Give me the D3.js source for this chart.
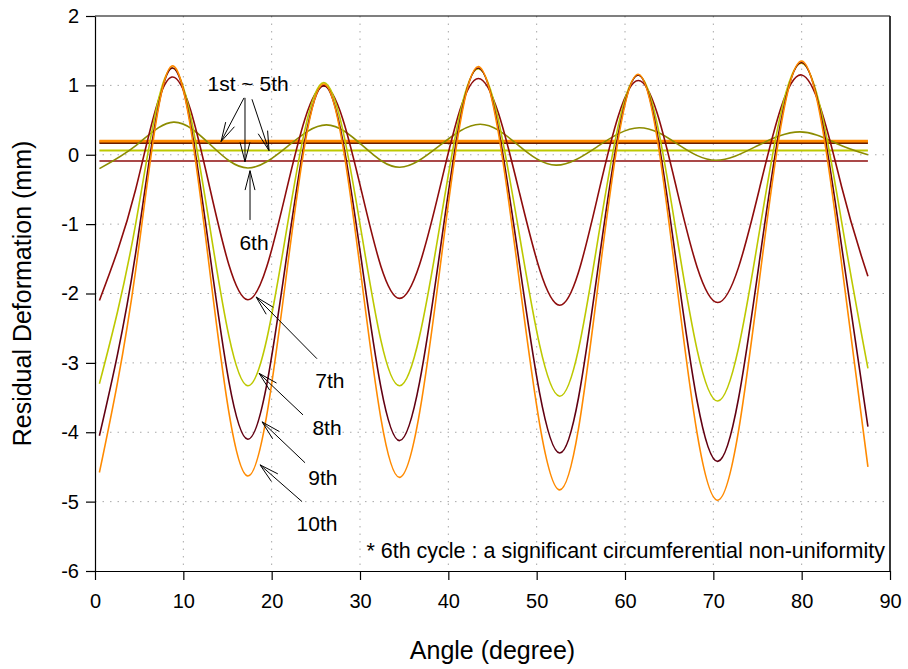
<!DOCTYPE html>
<html>
<head>
<meta charset="utf-8">
<script src="https://cdn.jsdelivr.net/npm/d3@7"></script>
<style>
  body { margin: 0; background: #fff; }
  text { font-family: "Liberation Sans", Arial, sans-serif; fill: #000; }
</style>
</head>
<body>
<div id="chart"></div>
<script>
// Width and height
var chart_width  = 908;
var chart_height = 669;

// Data
var angle = [0.5, 4.6, 8.7, 13.0, 17.3, 21.6, 25.9, 30.2, 34.5, 39.0, 43.4, 48.0, 52.6, 57.0, 61.5, 65.9, 70.5, 75.2, 80.0, 84.5, 87.5];
var cycle7  = [-2.1, -0.5, 1.12, -0.48, -2.09, -0.55, 0.99, -0.54, -2.07, -0.5, 1.1, -0.52, -2.17, -0.55, 1.07, -0.52, -2.13, -0.5, 1.15, -0.45, -1.75];
var cycle8  = [-3.3, -1.0, 1.25, -1.04, -3.33, -1.15, 1.04, -1.15, -3.33, -1.05, 1.24, -1.12, -3.48, -1.17, 1.15, -1.2, -3.55, -1.12, 1.32, -0.95, -3.08];
var cycle9  = [-4.05, -1.42, 1.25, -1.43, -4.1, -1.55, 1.0, -1.56, -4.12, -1.44, 1.25, -1.53, -4.3, -1.58, 1.15, -1.64, -4.42, -1.55, 1.33, -1.3, -3.92];
var cycle10 = [-4.58, -1.67, 1.28, -1.68, -4.63, -1.8, 1.02, -1.82, -4.65, -1.69, 1.27, -1.78, -4.83, -1.83, 1.16, -1.91, -4.98, -1.82, 1.35, -1.55, -4.5];

var angle6 = [0.5, 4.7, 8.9, 13.1, 17.3, 21.8, 26.2, 30.4, 34.5, 39.0, 43.6, 47.9, 52.2, 56.9, 61.6, 66.0, 70.3, 75.0, 79.8, 84.0, 87.5];
var cycle6 = [-0.2, 0.14, 0.47, 0.14, -0.19, 0.12, 0.43, 0.12, -0.18, 0.13, 0.44, 0.14, -0.15, 0.12, 0.39, 0.15, -0.08, 0.13, 0.33, 0.16, 0.0];

// cycles 1~5 are flat
var flatAngle = [0.5, 87.5];
var flatLevels = [-0.09, 0.06, 0.17, 0.2, 0.19];

var xTicks = [0, 10, 20, 30, 40, 50, 60, 70, 80, 90];
var yTicks = [-6, -5, -4, -3, -2, -1, 0, 1, 2];

var cDarkRed = '#8e0c0c', cYellow = '#bdc800', cMaroon = '#620012',
    cOrange = '#ff8a00', cOlive = '#8c8c00', cBrown = '#6a1c00';

// Scales
var x = d3.scaleLinear().domain([0, 90]).range([95, 890]);
var y = d3.scaleLinear().domain([-6, 2]).range([571, 16]);

var svg = d3.select('#chart')
    .append('svg')
    .attr('width', chart_width)
    .attr('height', chart_height);

// grid
var grid = svg.append('g').attr('class', 'grid');
grid.selectAll('line.gx')
    .data(xTicks.slice(1, -1))
    .enter().append('line')
    .attr('x1', function(d){ return x(d); })
    .attr('x2', function(d){ return x(d); })
    .attr('y1', y(2)).attr('y2', y(-6))
    .style('stroke', '#a8a8a8')
    .style('stroke-dasharray', '1.5,6');
grid.selectAll('line.gy')
    .data(yTicks.slice(1, -1))
    .enter().append('line')
    .attr('x1', x(0)).attr('x2', x(90))
    .attr('y1', function(d){ return y(d); })
    .attr('y2', function(d){ return y(d); })
    .style('stroke', '#a8a8a8')
    .style('stroke-dasharray', '1.5,6');

var line = d3.line()
    .x(function(d){ return x(d[0]); })
    .y(function(d){ return y(d[1]); })
    .curve(d3.curveNatural);

function pairs(xs, ys) {
    return xs.map(function(a, i){ return [a, ys[i]]; });
}

// flat cycles 1~5
var flatColors = [cDarkRed, cYellow, cBrown, cOrange, cOrange];
var flatWidths = [1.6, 2, 2, 2.2, 2];
flatLevels.forEach(function(v, i){
    svg.append('path')
        .datum(pairs(flatAngle, [v, v]))
        .attr('d', line)
        .style('fill', 'none')
        .style('stroke', flatColors[i])
        .style('stroke-width', flatWidths[i]);
});

var series = [
    { xs: angle6, ys: cycle6,  color: cOlive },
    { xs: angle,  ys: cycle7,  color: cDarkRed },
    { xs: angle,  ys: cycle8,  color: cYellow },
    { xs: angle,  ys: cycle9,  color: cMaroon },
    { xs: angle,  ys: cycle10, color: cOrange }
];
svg.selectAll('path.cycle')
    .data(series)
    .enter().append('path')
    .attr('class', 'cycle')
    .attr('d', function(d){ return line(pairs(d.xs, d.ys)); })
    .style('fill', 'none')
    .style('stroke', function(d){ return d.color; })
    .style('stroke-width', 1.6);

// axes (plain hyphen for negatives)
var fmt = function(d){ return String(d); };
var xAxis = d3.axisBottom(x).tickValues(xTicks).tickFormat(fmt).tickSize(9).tickSizeOuter(0).tickPadding(14);
var yAxis = d3.axisLeft(y).tickValues(yTicks).tickFormat(fmt).tickSize(9).tickSizeOuter(0).tickPadding(7);

var gx = svg.append('g')
    .attr('transform', 'translate(0,' + y(-6) + ')')
    .call(xAxis);
var gy = svg.append('g')
    .attr('transform', 'translate(' + x(0) + ',0)')
    .call(yAxis);
[gx, gy].forEach(function(g){
    g.selectAll('path, line').style('stroke', '#000').style('stroke-width', 1.2);
    g.selectAll('text').style('font-size', '20px').style('font-family', '"Liberation Sans", Arial, sans-serif');
});

// top and right frame
svg.append('line')
    .attr('x1', x(0)).attr('x2', x(90))
    .attr('y1', y(2)).attr('y2', y(2))
    .style('stroke', '#000').style('stroke-width', 1.2);
svg.append('line')
    .attr('x1', x(90)).attr('x2', x(90))
    .attr('y1', y(2)).attr('y2', y(-6))
    .style('stroke', '#222').style('stroke-width', 1.8);

// axis titles
svg.append('text')
    .attr('x', (x(0) + x(90)) / 2)
    .attr('y', 659)
    .attr('text-anchor', 'middle')
    .style('font-size', '25px')
    .text('Angle (degree)');
svg.append('text')
    .attr('transform', 'translate(31,' + ((y(2) + y(-6)) / 2) + ') rotate(-90)')
    .attr('text-anchor', 'middle')
    .style('font-size', '25px')
    .text('Residual Deformation (mm)');

// annotations: [tail angle, tail value, tip angle, tip value]
function arrow(a) {
    var x1 = x(a[0]), y1 = y(a[1]), x2 = x(a[2]), y2 = y(a[3]);
    var ang = Math.atan2(y1 - y2, x1 - x2);
    var len = 20, spread = 0.25;
    svg.append('line')
        .attr('x1', x1).attr('y1', y1).attr('x2', x2).attr('y2', y2)
        .style('stroke', '#000').style('stroke-width', 1);
    [-spread, spread].forEach(function(s){
        svg.append('line')
            .attr('x1', x2).attr('y1', y2)
            .attr('x2', x2 + len * Math.cos(ang + s))
            .attr('y2', y2 + len * Math.sin(ang + s))
            .style('stroke', '#000').style('stroke-width', 1);
    });
}
var arrows = [
    [16.87, 0.82, 14.27, 0.19],
    [16.98, 0.82, 16.98, -0.10],
    [17.77, 0.80, 19.70, 0.06],
    [17.55, -0.94, 17.55, -0.23],
    [25.13, -2.94, 18.24, -2.05],
    [23.55, -3.75, 18.57, -3.15],
    [23.78, -4.44, 18.91, -3.85],
    [23.44, -5.00, 18.68, -4.47]
];
arrows.forEach(arrow);

var labels = [
    ['1st ~ 5th', 17.33, 1.03],
    ['6th', 18.0, -1.26],
    ['7th', 26.6, -3.25],
    ['8th', 26.27, -3.94],
    ['9th', 25.8, -4.65],
    ['10th', 25.13, -5.32]
];
svg.selectAll('text.note')
    .data(labels)
    .enter().append('text')
    .attr('class', 'note')
    .attr('x', function(d){ return x(d[1]); })
    .attr('y', function(d){ return y(d[2]); })
    .attr('dy', '0.35em')
    .attr('text-anchor', 'middle')
    .style('font-size', '21px')
    .text(function(d){ return d[0]; });

svg.append('text')
    .attr('x', x(90) - 5)
    .attr('y', 558)
    .attr('text-anchor', 'end')
    .style('font-size', '21.5px')
    .text('* 6th cycle : a significant circumferential non-uniformity');
</script>
</body>
</html>
